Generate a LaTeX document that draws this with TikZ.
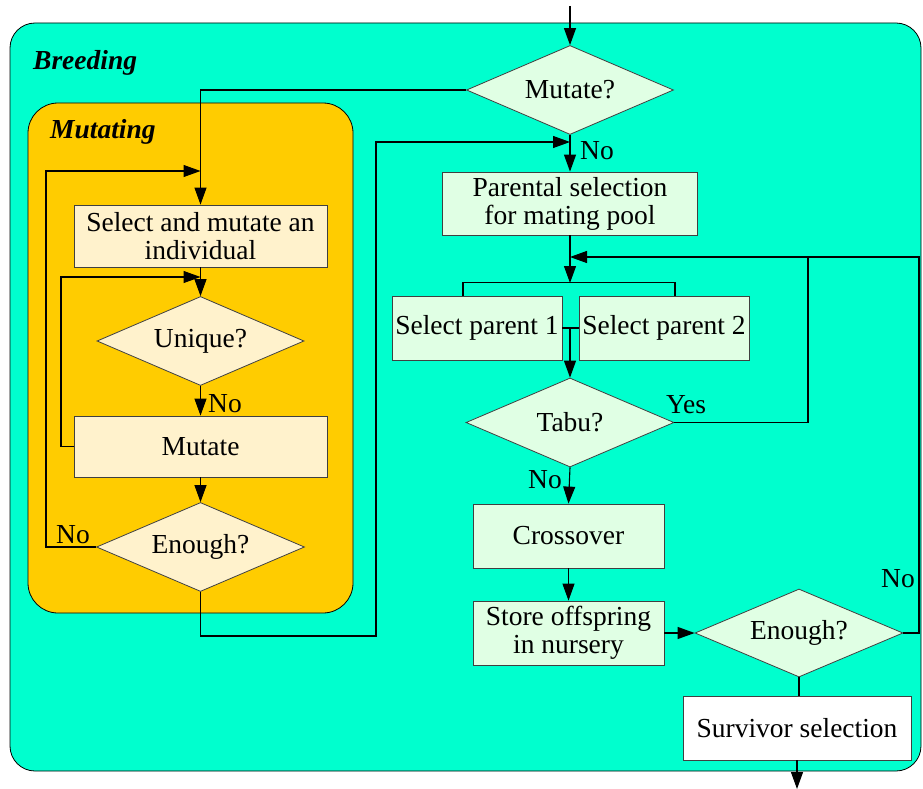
\documentclass[tikz,border=0pt]{standalone}
\usepackage{fontspec}
\setmainfont{Liberation Serif}
\usetikzlibrary{shapes.geometric,arrows.meta}
\definecolor{breed}{RGB}{0,255,206}
\definecolor{mutc}{RGB}{255,204,0}
\definecolor{ybox}{RGB}{255,242,204}
\definecolor{gbox}{RGB}{224,255,228}
\begin{document}
\begin{tikzpicture}[x=1pt,y=-1pt,
  every node/.style={font=\fontsize{27.5}{28}\selectfont},
  box/.style={draw=black!75, line width=0.8pt, rectangle, inner sep=0pt, align=center},
  dia/.style={draw=black!75, line width=0.8pt, diamond, inner sep=0pt, shape aspect=2.33, minimum width=207pt, minimum height=89pt},
  conn/.style={line width=1.1pt},
  arr/.style={conn, -{Triangle[length=17pt,width=12pt]}},
  lbl/.style={inner sep=0pt},
  title/.style={inner sep=0pt, anchor=west, font=\fontsize{27.5}{28}\selectfont\bfseries\itshape}
]
\useasboundingbox (0,0) rectangle (923,789);
\draw[fill=breed, line width=0.8pt, rounded corners=25pt] (10,23) rectangle (921,771);
\draw[fill=mutc, line width=0.8pt, rounded corners=30pt] (28,103) rectangle (353,613);
\node[title] (tbreed) at (33,63) {Breeding};
\node[title] (tmut) at (50,132) {Mutating};

% nodes
\node[dia, fill=gbox] (mut) at (570,90) {Mutate?};
\node[box, fill=ybox, minimum width=253pt, minimum height=62pt] (sm) at (200.5,236) {Select and mutate an\\individual};
\node[dia, fill=ybox] (uniq) at (200.5,341) {Unique?};
\node[box, fill=ybox, minimum width=253pt, minimum height=61pt] (mutb) at (200.5,446.5) {Mutate};
\node[dia, fill=ybox, minimum width=208pt] (en1) at (200.5,547) {Enough?};

\node[box, fill=gbox, minimum width=255pt, minimum height=63pt] (ps) at (570,203.5) {Parental selection\\for mating pool};
\node[box, fill=gbox, minimum width=170pt, minimum height=64pt] (p1) at (477,328) {Select parent 1};
\node[box, fill=gbox, minimum width=170pt, minimum height=64pt] (p2) at (664,328) {Select parent 2};
\node[dia, fill=gbox, minimum width=208pt] (tabu) at (570,422.5) {Tabu?};
\node[box, fill=gbox, minimum width=191pt, minimum height=64pt] (cross) at (568.5,536) {Crossover};
\node[box, fill=gbox, minimum width=191pt, minimum height=64pt] (store) at (568.5,633) {Store offspring\\in nursery};
\node[dia, fill=gbox, minimum width=208pt, minimum height=88pt] (en2) at (799,633) {Enough?};
\node[box, fill=white, minimum width=228pt, minimum height=64pt] (surv) at (797,728) {Survivor selection};

% junction coordinates
\coordinate (top) at (570,6);
\coordinate (j1) at (200.5,171);
\coordinate (j2) at (200.5,277);
\coordinate (j3) at (570,142);
\coordinate (j4) at (570,283);
\coordinate (j5) at (570,328);
\coordinate (j6) at (570,257);
\coordinate (bot) at (797,789);

% connectors
\draw[arr] (top) -- (mut.north);
\draw[arr] (mut.west) -| (sm.north);
\draw[arr] (en1.west) -- (46,547) |- (j1);
\draw[arr] (sm.south) -- (uniq.north);
\draw[arr] (mutb.west) -- (61,446.5) |- (j2);
\draw[arr] (uniq.south) -- (mutb.north);
\draw[arr] (mutb.south) -- (en1.north);
\draw[arr] (en1.south) -- (200.5,636) -- (376,636) |- (j3);
\draw[arr] (mut.south) -- (ps.north);
\draw[arr] (ps.south) -- (j4);
\draw[conn] ([xshift=-14pt]p1.north) -- ++(0,-13) -| ([xshift=11pt]p2.north);
\draw[conn] (p1.east) -- (p2.west);
\draw[arr] (j5) -- (tabu.north);
\draw[conn] (tabu.east) -- (808,422.5) -- (808,257);
\draw[arr] (en2.east) -- (919,633) |- (j6);
\draw[arr] (tabu.south) -- (cross.north);
\draw[arr] (cross.south) -- (store.north);
\draw[arr] (store.east) -- (en2.west);
\draw[conn] (en2.south) -- (en2.south |- surv.north);
\draw[arr] (surv.south) -- (bot);

% labels
\node[lbl] (l1) at (597,151) {No};
\node[lbl] (l2) at (225,404) {No};
\node[lbl] (l3) at (73,535) {No};
\node[lbl] (l4) at (686,405) {Yes};
\node[lbl] (l5) at (545,480) {No};
\node[lbl] (l6) at (898,579) {No};
\end{tikzpicture}
\end{document}
